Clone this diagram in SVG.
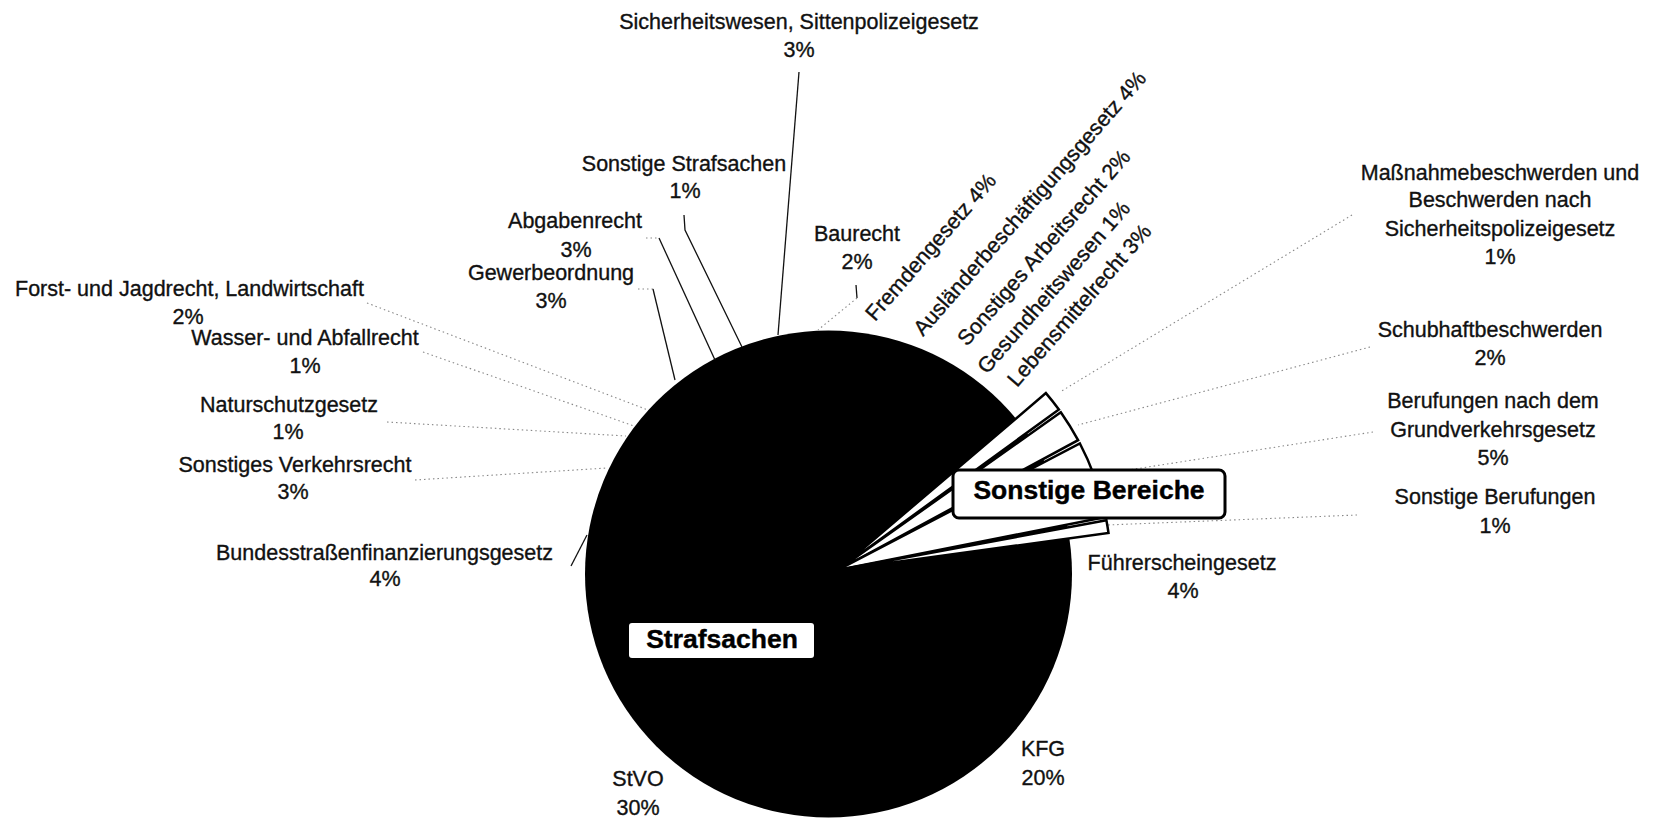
<svg xmlns="http://www.w3.org/2000/svg" width="1653" height="818" viewBox="0 0 1653 818">
<style>
text{font-family:"Liberation Sans",Arial,sans-serif;font-size:21.5px;fill:#111;stroke:#111;stroke-width:0.35}
.c{text-anchor:middle}
.b{font-weight:bold;font-size:26.5px;fill:#000;stroke:#000;stroke-width:0.4}
.solid{stroke:#111;stroke-width:1.3;fill:none}
.dot{stroke:#888;stroke-width:1.1;stroke-dasharray:1.5 3;fill:none}
.wedge{fill:#fff;stroke:#000;stroke-width:2.5}
</style>
<rect width="1653" height="818" fill="#fff"/>
<g id="pie">
<circle cx="828.5" cy="574" r="243.5" fill="#000"/>
</g>
<g id="connectors">
<polyline class="solid" points="799,72 778,335"/>
<polyline class="solid" points="684,215 685,230 742,347"/>
<polyline class="dot" points="646,238 659,238"/>
<polyline class="solid" points="659,238 715,360"/>
<polyline class="dot" points="638,289 653,289"/>
<polyline class="solid" points="653,289 675,380"/>
<polyline class="solid" points="856,285 857,298"/>
<polyline class="dot" points="857,298 818,330"/>
<polyline class="dot" points="367,303 648,410"/>
<polyline class="dot" points="423,352 634,426"/>
<polyline class="dot" points="387,422 626,436"/>
<polyline class="dot" points="415,480 607,468"/>
<polyline class="solid" points="571,566 587,535"/>
<polyline class="dot" points="1352,215 1060,392"/>
<polyline class="dot" points="1370,347 1078,425"/>
<polyline class="dot" points="1373,432 1090,476"/>
<polyline class="dot" points="1357,515 1107,525"/>
</g>
<g id="sonstige-wedges">
<path class="wedge" d="M838,570 L1045.9,393.1 A273,273 0 0 1 1058.9,409.5 Z"/>
<path class="wedge" d="M838,570 L1060.8,412.2 A273,273 0 0 1 1078.1,440.2 Z"/>
<path class="wedge" d="M838,570 L1079.9,443.5 A273,273 0 0 1 1105.8,517.0 Z"/>
<path class="wedge" d="M838,570 L1106.4,520.3 A273,273 0 0 1 1108.5,533.0 Z"/>
</g>
<g id="box-sonstige-bereiche">
<rect x="953" y="470" width="272" height="48" rx="6" fill="#fff" stroke="#000" stroke-width="3"/>
<text class="b c" x="1089" y="499">Sonstige Bereiche</text>
</g>
<g id="box-strafsachen">
<rect x="629" y="623" width="185" height="35" rx="3" fill="#fff"/>
<text class="b c" x="722" y="648">Strafsachen</text>
</g>
<g id="l-sicherheitswesen"><text class="c" x="799" y="29">Sicherheitswesen, Sittenpolizeigesetz</text><text class="c" x="799" y="57">3%</text></g>
<g id="l-sonstige-strafsachen"><text class="c" x="684" y="171">Sonstige Strafsachen</text><text class="c" x="685" y="198">1%</text></g>
<g id="l-abgabenrecht"><text class="c" x="575" y="228">Abgabenrecht</text><text class="c" x="576" y="257">3%</text></g>
<g id="l-gewerbeordnung"><text class="c" x="551" y="280">Gewerbeordnung</text><text class="c" x="551" y="308">3%</text></g>
<g id="l-baurecht"><text class="c" x="857" y="241">Baurecht</text><text class="c" x="857" y="269">2%</text></g>
<g id="l-forst"><text class="c" x="189.5" y="296">Forst- und Jagdrecht, Landwirtschaft</text><text class="c" x="188" y="324">2%</text></g>
<g id="l-wasser"><text class="c" x="305" y="345">Wasser- und Abfallrecht</text><text class="c" x="305" y="373">1%</text></g>
<g id="l-naturschutz"><text class="c" x="289" y="412">Naturschutzgesetz</text><text class="c" x="288" y="439">1%</text></g>
<g id="l-verkehrsrecht"><text class="c" x="295" y="472">Sonstiges Verkehrsrecht</text><text class="c" x="293" y="499">3%</text></g>
<g id="l-bundesstrassen"><text class="c" x="384.5" y="560">Bundesstraßenfinanzierungsgesetz</text><text class="c" x="385" y="586">4%</text></g>
<g id="l-massnahme"><text class="c" x="1500" y="180">Maßnahmebeschwerden und</text><text class="c" x="1500" y="207">Beschwerden nach</text><text class="c" x="1500" y="236">Sicherheitspolizeigesetz</text><text class="c" x="1500" y="264">1%</text></g>
<g id="l-schubhaft"><text class="c" x="1490" y="337">Schubhaftbeschwerden</text><text class="c" x="1490" y="365">2%</text></g>
<g id="l-grundverkehr"><text class="c" x="1493" y="408">Berufungen nach dem</text><text class="c" x="1493" y="437">Grundverkehrsgesetz</text><text class="c" x="1493" y="465">5%</text></g>
<g id="l-sonstige-berufungen"><text class="c" x="1495" y="504">Sonstige Berufungen</text><text class="c" x="1495" y="533">1%</text></g>
<g id="l-fuehrerschein"><text class="c" x="1182" y="570">Führerscheingesetz</text><text class="c" x="1183" y="598">4%</text></g>
<g id="l-kfg"><text class="c" x="1043" y="756">KFG</text><text class="c" x="1043" y="785">20%</text></g>
<g id="l-stvo"><text class="c" x="638" y="786">StVO</text><text class="c" x="638" y="815">30%</text></g>
<g id="l-fremdengesetz"><text transform="translate(875,322) rotate(-49)">Fremdengesetz 4%</text></g>
<g id="l-auslaender"><text transform="translate(923,337) rotate(-49)">Ausländerbeschäftigungsgesetz 4%</text></g>
<g id="l-arbeitsrecht"><text transform="translate(967,347) rotate(-49)">Sonstiges Arbeitsrecht 2%</text></g>
<g id="l-gesundheit"><text transform="translate(987,375) rotate(-49)">Gesundheitswesen 1%</text></g>
<g id="l-lebensmittel"><text transform="translate(1017,388) rotate(-49)">Lebensmittelrecht 3%</text></g>
</svg>
